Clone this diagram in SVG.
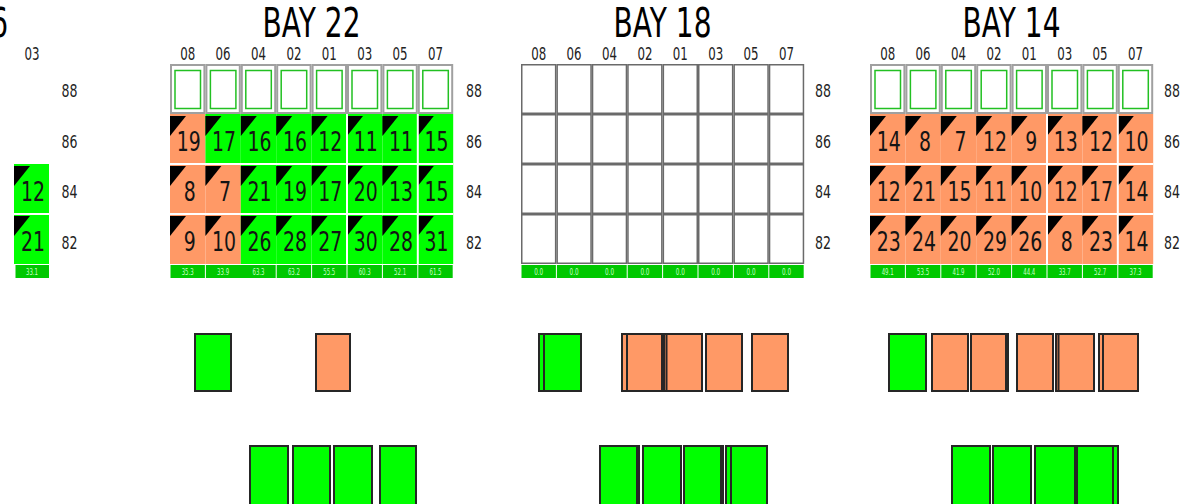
<svg xmlns="http://www.w3.org/2000/svg" xmlns:xlink="http://www.w3.org/1999/xlink" width="1181" height="504" viewBox="0 0 1181 504">
<style>
.g{fill:#00ff00}
.o{fill:#ff9966}
.n{font-family:"DejaVu Sans","Liberation Sans",sans-serif;font-size:26px;text-anchor:middle;fill:#141414}
.lb{font-family:"DejaVu Sans","Liberation Sans",sans-serif;font-size:18px;text-anchor:middle;fill:#222}
.ti{font-family:"DejaVu Sans","Liberation Sans",sans-serif;font-size:40px;text-anchor:middle;fill:#000}
.ft{fill:#00c800}
.fv{font-family:"DejaVu Sans","Liberation Sans",sans-serif;font-size:8px;text-anchor:middle;fill:#c8ffc8}
.sep{stroke:#fff;stroke-width:2}
.box{fill:#fff;stroke:#a0a0a0;stroke-width:2}
.in{fill:none;stroke:#22c022;stroke-width:1.5}
.e{fill:#fff;stroke:#6a6a6a;stroke-width:1.5}
.cg{fill:#00ff00;stroke:#262626;stroke-width:2}
.co{fill:#ff9966;stroke:#262626;stroke-width:2}
</style>
<defs>
<path id="tri" d="M0,0h16l-16,20z" fill="#000"/>
</defs>
<rect width="1181" height="504" fill="#fff"/>

<!-- Left partial bay 26 -->
<g id="bay26">
<text class="ti" style="text-anchor:end" x="8" y="37" textLength="98" lengthAdjust="spacingAndGlyphs">BAY 26</text>
<text class="lb" x="32" y="60" textLength="15" lengthAdjust="spacingAndGlyphs">03</text>
<text class="lb" x="69.5" y="97" textLength="16" lengthAdjust="spacingAndGlyphs">88</text>
<text class="lb" x="69.5" y="148" textLength="16" lengthAdjust="spacingAndGlyphs">86</text>
<text class="lb" x="69.5" y="198" textLength="16" lengthAdjust="spacingAndGlyphs">84</text>
<text class="lb" x="69.5" y="249" textLength="16" lengthAdjust="spacingAndGlyphs">82</text>
<g id="b26-84-03"><rect class="g" x="14" y="164" width="35" height="50"/><use href="#tri" x="14" y="166"/><text class="n" x="33" y="201" textLength="24" lengthAdjust="spacingAndGlyphs">12</text></g>
<g id="b26-82-03"><rect class="g" x="14" y="214" width="35" height="50"/><use href="#tri" x="14" y="216"/><text class="n" x="33" y="251" textLength="24" lengthAdjust="spacingAndGlyphs">21</text></g>
<line class="sep" x1="14" y1="214" x2="49" y2="214"/>
<g id="b26-ft"><rect class="ft" x="15.5" y="265" width="33.5" height="13"/><text class="fv" x="32" y="275" textLength="12" lengthAdjust="spacingAndGlyphs">33.1</text></g>
</g>

<!-- BAY 22 -->
<g id="bay22">
<text class="ti" x="311.5" y="37" textLength="98" lengthAdjust="spacingAndGlyphs">BAY 22</text>
<g id="b22-cols">
<text class="lb" x="187.7" y="60" textLength="15" lengthAdjust="spacingAndGlyphs">08</text>
<text class="lb" x="223.1" y="60" textLength="15" lengthAdjust="spacingAndGlyphs">06</text>
<text class="lb" x="258.5" y="60" textLength="15" lengthAdjust="spacingAndGlyphs">04</text>
<text class="lb" x="293.9" y="60" textLength="15" lengthAdjust="spacingAndGlyphs">02</text>
<text class="lb" x="329.3" y="60" textLength="15" lengthAdjust="spacingAndGlyphs">01</text>
<text class="lb" x="364.7" y="60" textLength="15" lengthAdjust="spacingAndGlyphs">03</text>
<text class="lb" x="400.1" y="60" textLength="15" lengthAdjust="spacingAndGlyphs">05</text>
<text class="lb" x="435.5" y="60" textLength="15" lengthAdjust="spacingAndGlyphs">07</text>
</g>
<g id="b22-rows">
<text class="lb" x="474" y="97" textLength="16" lengthAdjust="spacingAndGlyphs">88</text>
<text class="lb" x="474" y="148" textLength="16" lengthAdjust="spacingAndGlyphs">86</text>
<text class="lb" x="474" y="198" textLength="16" lengthAdjust="spacingAndGlyphs">84</text>
<text class="lb" x="474" y="249" textLength="16" lengthAdjust="spacingAndGlyphs">82</text>
</g>
<g id="b22-88">
<rect class="box" x="171" y="65" width="33.4" height="48"/><rect class="in" x="175" y="70.5" width="25.5" height="38"/>
<rect class="box" x="206.4" y="65" width="33.4" height="48"/><rect class="in" x="210.4" y="70.5" width="25.5" height="38"/>
<rect class="box" x="241.8" y="65" width="33.4" height="48"/><rect class="in" x="245.8" y="70.5" width="25.5" height="38"/>
<rect class="box" x="277.2" y="65" width="33.4" height="48"/><rect class="in" x="281.2" y="70.5" width="25.5" height="38"/>
<rect class="box" x="312.6" y="65" width="33.4" height="48"/><rect class="in" x="316.6" y="70.5" width="25.5" height="38"/>
<rect class="box" x="348" y="65" width="33.4" height="48"/><rect class="in" x="352" y="70.5" width="25.5" height="38"/>
<rect class="box" x="383.4" y="65" width="33.4" height="48"/><rect class="in" x="387.4" y="70.5" width="25.5" height="38"/>
<rect class="box" x="418.8" y="65" width="33.4" height="48"/><rect class="in" x="422.8" y="70.5" width="25.5" height="38"/>
</g>
<!-- row 86 -->
<g id="b22-86-08"><rect class="o" x="170" y="114" width="35.4" height="50"/><use href="#tri" x="170" y="116"/><text class="n" x="188.7" y="151" textLength="24" lengthAdjust="spacingAndGlyphs">19</text></g>
<g id="b22-86-06"><rect class="g" x="205.4" y="114" width="35.4" height="50"/><use href="#tri" x="205.4" y="116"/><text class="n" x="224.1" y="151" textLength="24" lengthAdjust="spacingAndGlyphs">17</text></g>
<g id="b22-86-04"><rect class="g" x="240.8" y="114" width="35.4" height="50"/><use href="#tri" x="240.8" y="116"/><text class="n" x="259.5" y="151" textLength="24" lengthAdjust="spacingAndGlyphs">16</text></g>
<g id="b22-86-02"><rect class="g" x="276.2" y="114" width="35.4" height="50"/><use href="#tri" x="276.2" y="116"/><text class="n" x="294.9" y="151" textLength="24" lengthAdjust="spacingAndGlyphs">16</text></g>
<g id="b22-86-01"><rect class="g" x="311.6" y="114" width="35.4" height="50"/><use href="#tri" x="311.6" y="116"/><text class="n" x="330.3" y="151" textLength="24" lengthAdjust="spacingAndGlyphs">12</text></g>
<g id="b22-86-03"><rect class="g" x="347" y="114" width="35.4" height="50"/><use href="#tri" x="347" y="116"/><text class="n" x="365.7" y="151" textLength="24" lengthAdjust="spacingAndGlyphs">11</text></g>
<g id="b22-86-05"><rect class="g" x="382.4" y="114" width="35.4" height="50"/><use href="#tri" x="382.4" y="116"/><text class="n" x="401.1" y="151" textLength="24" lengthAdjust="spacingAndGlyphs">11</text></g>
<g id="b22-86-07"><rect class="g" x="417.8" y="114" width="35.4" height="50"/><use href="#tri" x="417.8" y="116"/><text class="n" x="436.5" y="151" textLength="24" lengthAdjust="spacingAndGlyphs">15</text></g>
<!-- row 84 -->
<g id="b22-84-08"><rect class="o" x="170" y="164" width="35.4" height="50"/><use href="#tri" x="170" y="166"/><text class="n" x="189.7" y="201" textLength="12" lengthAdjust="spacingAndGlyphs">8</text></g>
<g id="b22-84-06"><rect class="o" x="205.4" y="164" width="35.4" height="50"/><use href="#tri" x="205.4" y="166"/><text class="n" x="225.1" y="201" textLength="12" lengthAdjust="spacingAndGlyphs">7</text></g>
<g id="b22-84-04"><rect class="g" x="240.8" y="164" width="35.4" height="50"/><use href="#tri" x="240.8" y="166"/><text class="n" x="259.5" y="201" textLength="24" lengthAdjust="spacingAndGlyphs">21</text></g>
<g id="b22-84-02"><rect class="g" x="276.2" y="164" width="35.4" height="50"/><use href="#tri" x="276.2" y="166"/><text class="n" x="294.9" y="201" textLength="24" lengthAdjust="spacingAndGlyphs">19</text></g>
<g id="b22-84-01"><rect class="g" x="311.6" y="164" width="35.4" height="50"/><use href="#tri" x="311.6" y="166"/><text class="n" x="330.3" y="201" textLength="24" lengthAdjust="spacingAndGlyphs">17</text></g>
<g id="b22-84-03"><rect class="g" x="347" y="164" width="35.4" height="50"/><use href="#tri" x="347" y="166"/><text class="n" x="365.7" y="201" textLength="24" lengthAdjust="spacingAndGlyphs">20</text></g>
<g id="b22-84-05"><rect class="g" x="382.4" y="164" width="35.4" height="50"/><use href="#tri" x="382.4" y="166"/><text class="n" x="401.1" y="201" textLength="24" lengthAdjust="spacingAndGlyphs">13</text></g>
<g id="b22-84-07"><rect class="g" x="417.8" y="164" width="35.4" height="50"/><use href="#tri" x="417.8" y="166"/><text class="n" x="436.5" y="201" textLength="24" lengthAdjust="spacingAndGlyphs">15</text></g>
<!-- row 82 -->
<g id="b22-82-08"><rect class="o" x="170" y="214" width="35.4" height="50"/><use href="#tri" x="170" y="216"/><text class="n" x="189.7" y="251" textLength="12" lengthAdjust="spacingAndGlyphs">9</text></g>
<g id="b22-82-06"><rect class="o" x="205.4" y="214" width="35.4" height="50"/><use href="#tri" x="205.4" y="216"/><text class="n" x="224.1" y="251" textLength="24" lengthAdjust="spacingAndGlyphs">10</text></g>
<g id="b22-82-04"><rect class="g" x="240.8" y="214" width="35.4" height="50"/><use href="#tri" x="240.8" y="216"/><text class="n" x="259.5" y="251" textLength="24" lengthAdjust="spacingAndGlyphs">26</text></g>
<g id="b22-82-02"><rect class="g" x="276.2" y="214" width="35.4" height="50"/><use href="#tri" x="276.2" y="216"/><text class="n" x="294.9" y="251" textLength="24" lengthAdjust="spacingAndGlyphs">28</text></g>
<g id="b22-82-01"><rect class="g" x="311.6" y="214" width="35.4" height="50"/><use href="#tri" x="311.6" y="216"/><text class="n" x="330.3" y="251" textLength="24" lengthAdjust="spacingAndGlyphs">27</text></g>
<g id="b22-82-03"><rect class="g" x="347" y="214" width="35.4" height="50"/><use href="#tri" x="347" y="216"/><text class="n" x="365.7" y="251" textLength="24" lengthAdjust="spacingAndGlyphs">30</text></g>
<g id="b22-82-05"><rect class="g" x="382.4" y="214" width="35.4" height="50"/><use href="#tri" x="382.4" y="216"/><text class="n" x="401.1" y="251" textLength="24" lengthAdjust="spacingAndGlyphs">28</text></g>
<g id="b22-82-07"><rect class="g" x="417.8" y="214" width="35.4" height="50"/><use href="#tri" x="417.8" y="216"/><text class="n" x="436.5" y="251" textLength="24" lengthAdjust="spacingAndGlyphs">31</text></g>
<g id="b22-seps">
<line class="sep" x1="170" y1="164" x2="453.2" y2="164"/>
<line class="sep" x1="170" y1="214" x2="453.2" y2="214"/>
<line class="sep" x1="347" y1="114" x2="347" y2="264"/>
<line class="sep" x1="417.8" y1="114" x2="417.8" y2="264"/>
</g>
<g id="b22-ft">
<rect class="ft" x="170.5" y="265" width="34.4" height="13"/>
<rect class="ft" x="205.9" y="265" width="69.8" height="13"/>
<rect class="ft" x="276.7" y="265" width="34.4" height="13"/>
<rect class="ft" x="312.1" y="265" width="34.4" height="13"/>
<rect class="ft" x="347.5" y="265" width="34.4" height="13"/>
<rect class="ft" x="382.9" y="265" width="34.4" height="13"/>
<rect class="ft" x="418.3" y="265" width="34.4" height="13"/>
<text class="fv" x="187.7" y="275" textLength="12" lengthAdjust="spacingAndGlyphs">35.3</text>
<text class="fv" x="223.1" y="275" textLength="12" lengthAdjust="spacingAndGlyphs">33.9</text>
<text class="fv" x="258.5" y="275" textLength="12" lengthAdjust="spacingAndGlyphs">63.3</text>
<text class="fv" x="293.9" y="275" textLength="12" lengthAdjust="spacingAndGlyphs">63.2</text>
<text class="fv" x="329.3" y="275" textLength="12" lengthAdjust="spacingAndGlyphs">55.5</text>
<text class="fv" x="364.7" y="275" textLength="12" lengthAdjust="spacingAndGlyphs">60.3</text>
<text class="fv" x="400.1" y="275" textLength="12" lengthAdjust="spacingAndGlyphs">52.1</text>
<text class="fv" x="435.5" y="275" textLength="12" lengthAdjust="spacingAndGlyphs">61.5</text>
</g>
</g>

<!-- BAY 18 -->
<g id="bay18">
<text class="ti" x="662.5" y="37" textLength="98" lengthAdjust="spacingAndGlyphs">BAY 18</text>
<g id="b18-cols">
<text class="lb" x="538.7" y="60" textLength="15" lengthAdjust="spacingAndGlyphs">08</text>
<text class="lb" x="574.1" y="60" textLength="15" lengthAdjust="spacingAndGlyphs">06</text>
<text class="lb" x="609.5" y="60" textLength="15" lengthAdjust="spacingAndGlyphs">04</text>
<text class="lb" x="644.9" y="60" textLength="15" lengthAdjust="spacingAndGlyphs">02</text>
<text class="lb" x="680.3" y="60" textLength="15" lengthAdjust="spacingAndGlyphs">01</text>
<text class="lb" x="715.7" y="60" textLength="15" lengthAdjust="spacingAndGlyphs">03</text>
<text class="lb" x="751.1" y="60" textLength="15" lengthAdjust="spacingAndGlyphs">05</text>
<text class="lb" x="786.5" y="60" textLength="15" lengthAdjust="spacingAndGlyphs">07</text>
</g>
<g id="b18-rows">
<text class="lb" x="823" y="97" textLength="16" lengthAdjust="spacingAndGlyphs">88</text>
<text class="lb" x="823" y="148" textLength="16" lengthAdjust="spacingAndGlyphs">86</text>
<text class="lb" x="823" y="198" textLength="16" lengthAdjust="spacingAndGlyphs">84</text>
<text class="lb" x="823" y="249" textLength="16" lengthAdjust="spacingAndGlyphs">82</text>
</g>
<g id="b18-cells">
<rect class="e" x="521.75" y="64.75" width="33.9" height="48.5"/><rect class="e" x="557.15" y="64.75" width="33.9" height="48.5"/><rect class="e" x="592.55" y="64.75" width="33.9" height="48.5"/><rect class="e" x="627.95" y="64.75" width="33.9" height="48.5"/><rect class="e" x="663.35" y="64.75" width="33.9" height="48.5"/><rect class="e" x="698.75" y="64.75" width="33.9" height="48.5"/><rect class="e" x="734.15" y="64.75" width="33.9" height="48.5"/><rect class="e" x="769.55" y="64.75" width="33.9" height="48.5"/>
<rect class="e" x="521.75" y="114.75" width="33.9" height="48.5"/><rect class="e" x="557.15" y="114.75" width="33.9" height="48.5"/><rect class="e" x="592.55" y="114.75" width="33.9" height="48.5"/><rect class="e" x="627.95" y="114.75" width="33.9" height="48.5"/><rect class="e" x="663.35" y="114.75" width="33.9" height="48.5"/><rect class="e" x="698.75" y="114.75" width="33.9" height="48.5"/><rect class="e" x="734.15" y="114.75" width="33.9" height="48.5"/><rect class="e" x="769.55" y="114.75" width="33.9" height="48.5"/>
<rect class="e" x="521.75" y="164.75" width="33.9" height="48.5"/><rect class="e" x="557.15" y="164.75" width="33.9" height="48.5"/><rect class="e" x="592.55" y="164.75" width="33.9" height="48.5"/><rect class="e" x="627.95" y="164.75" width="33.9" height="48.5"/><rect class="e" x="663.35" y="164.75" width="33.9" height="48.5"/><rect class="e" x="698.75" y="164.75" width="33.9" height="48.5"/><rect class="e" x="734.15" y="164.75" width="33.9" height="48.5"/><rect class="e" x="769.55" y="164.75" width="33.9" height="48.5"/>
<rect class="e" x="521.75" y="214.75" width="33.9" height="48.5"/><rect class="e" x="557.15" y="214.75" width="33.9" height="48.5"/><rect class="e" x="592.55" y="214.75" width="33.9" height="48.5"/><rect class="e" x="627.95" y="214.75" width="33.9" height="48.5"/><rect class="e" x="663.35" y="214.75" width="33.9" height="48.5"/><rect class="e" x="698.75" y="214.75" width="33.9" height="48.5"/><rect class="e" x="734.15" y="214.75" width="33.9" height="48.5"/><rect class="e" x="769.55" y="214.75" width="33.9" height="48.5"/>
</g>
<g id="b18-ft">
<rect class="ft" x="521.5" y="265" width="34.4" height="13"/>
<rect class="ft" x="556.9" y="265" width="69.8" height="13"/>
<rect class="ft" x="627.7" y="265" width="34.4" height="13"/>
<rect class="ft" x="663.1" y="265" width="34.4" height="13"/>
<rect class="ft" x="698.5" y="265" width="34.4" height="13"/>
<rect class="ft" x="733.9" y="265" width="34.4" height="13"/>
<rect class="ft" x="769.3" y="265" width="34.4" height="13"/>
<text class="fv" x="538.7" y="275" textLength="9" lengthAdjust="spacingAndGlyphs">0.0</text>
<text class="fv" x="574.1" y="275" textLength="9" lengthAdjust="spacingAndGlyphs">0.0</text>
<text class="fv" x="609.5" y="275" textLength="9" lengthAdjust="spacingAndGlyphs">0.0</text>
<text class="fv" x="644.9" y="275" textLength="9" lengthAdjust="spacingAndGlyphs">0.0</text>
<text class="fv" x="680.3" y="275" textLength="9" lengthAdjust="spacingAndGlyphs">0.0</text>
<text class="fv" x="715.7" y="275" textLength="9" lengthAdjust="spacingAndGlyphs">0.0</text>
<text class="fv" x="751.1" y="275" textLength="9" lengthAdjust="spacingAndGlyphs">0.0</text>
<text class="fv" x="786.5" y="275" textLength="9" lengthAdjust="spacingAndGlyphs">0.0</text>
</g>
</g>

<!-- BAY 14 -->
<g id="bay14">
<text class="ti" x="1011.5" y="37" textLength="98" lengthAdjust="spacingAndGlyphs">BAY 14</text>
<g id="b14-cols">
<text class="lb" x="887.7" y="60" textLength="15" lengthAdjust="spacingAndGlyphs">08</text>
<text class="lb" x="923.1" y="60" textLength="15" lengthAdjust="spacingAndGlyphs">06</text>
<text class="lb" x="958.5" y="60" textLength="15" lengthAdjust="spacingAndGlyphs">04</text>
<text class="lb" x="993.9" y="60" textLength="15" lengthAdjust="spacingAndGlyphs">02</text>
<text class="lb" x="1029.3" y="60" textLength="15" lengthAdjust="spacingAndGlyphs">01</text>
<text class="lb" x="1064.7" y="60" textLength="15" lengthAdjust="spacingAndGlyphs">03</text>
<text class="lb" x="1100.1" y="60" textLength="15" lengthAdjust="spacingAndGlyphs">05</text>
<text class="lb" x="1135.5" y="60" textLength="15" lengthAdjust="spacingAndGlyphs">07</text>
</g>
<g id="b14-rows">
<text class="lb" x="1172" y="97" textLength="16" lengthAdjust="spacingAndGlyphs">88</text>
<text class="lb" x="1172" y="148" textLength="16" lengthAdjust="spacingAndGlyphs">86</text>
<text class="lb" x="1172" y="198" textLength="16" lengthAdjust="spacingAndGlyphs">84</text>
<text class="lb" x="1172" y="249" textLength="16" lengthAdjust="spacingAndGlyphs">82</text>
</g>
<g id="b14-88">
<rect class="box" x="871" y="65" width="33.4" height="48"/><rect class="in" x="875" y="70.5" width="25.5" height="38"/>
<rect class="box" x="906.4" y="65" width="33.4" height="48"/><rect class="in" x="910.4" y="70.5" width="25.5" height="38"/>
<rect class="box" x="941.8" y="65" width="33.4" height="48"/><rect class="in" x="945.8" y="70.5" width="25.5" height="38"/>
<rect class="box" x="977.2" y="65" width="33.4" height="48"/><rect class="in" x="981.2" y="70.5" width="25.5" height="38"/>
<rect class="box" x="1012.6" y="65" width="33.4" height="48"/><rect class="in" x="1016.6" y="70.5" width="25.5" height="38"/>
<rect class="box" x="1048" y="65" width="33.4" height="48"/><rect class="in" x="1052" y="70.5" width="25.5" height="38"/>
<rect class="box" x="1083.4" y="65" width="33.4" height="48"/><rect class="in" x="1087.4" y="70.5" width="25.5" height="38"/>
<rect class="box" x="1118.8" y="65" width="33.4" height="48"/><rect class="in" x="1122.8" y="70.5" width="25.5" height="38"/>
</g>
<!-- row 86 -->
<g id="b14-86-08"><rect class="o" x="870" y="114" width="35.4" height="50"/><use href="#tri" x="870" y="116"/><text class="n" x="888.7" y="151" textLength="24" lengthAdjust="spacingAndGlyphs">14</text></g>
<g id="b14-86-06"><rect class="o" x="905.4" y="114" width="35.4" height="50"/><use href="#tri" x="905.4" y="116"/><text class="n" x="925.1" y="151" textLength="12" lengthAdjust="spacingAndGlyphs">8</text></g>
<g id="b14-86-04"><rect class="o" x="940.8" y="114" width="35.4" height="50"/><use href="#tri" x="940.8" y="116"/><text class="n" x="960.5" y="151" textLength="12" lengthAdjust="spacingAndGlyphs">7</text></g>
<g id="b14-86-02"><rect class="o" x="976.2" y="114" width="35.4" height="50"/><use href="#tri" x="976.2" y="116"/><text class="n" x="994.9" y="151" textLength="24" lengthAdjust="spacingAndGlyphs">12</text></g>
<g id="b14-86-01"><rect class="o" x="1011.6" y="114" width="35.4" height="50"/><use href="#tri" x="1011.6" y="116"/><text class="n" x="1031.3" y="151" textLength="12" lengthAdjust="spacingAndGlyphs">9</text></g>
<g id="b14-86-03"><rect class="o" x="1047" y="114" width="35.4" height="50"/><use href="#tri" x="1047" y="116"/><text class="n" x="1065.7" y="151" textLength="24" lengthAdjust="spacingAndGlyphs">13</text></g>
<g id="b14-86-05"><rect class="o" x="1082.4" y="114" width="35.4" height="50"/><use href="#tri" x="1082.4" y="116"/><text class="n" x="1101.1" y="151" textLength="24" lengthAdjust="spacingAndGlyphs">12</text></g>
<g id="b14-86-07"><rect class="o" x="1117.8" y="114" width="35.4" height="50"/><use href="#tri" x="1117.8" y="116"/><text class="n" x="1136.5" y="151" textLength="24" lengthAdjust="spacingAndGlyphs">10</text></g>
<!-- row 84 -->
<g id="b14-84-08"><rect class="o" x="870" y="164" width="35.4" height="50"/><use href="#tri" x="870" y="166"/><text class="n" x="888.7" y="201" textLength="24" lengthAdjust="spacingAndGlyphs">12</text></g>
<g id="b14-84-06"><rect class="o" x="905.4" y="164" width="35.4" height="50"/><use href="#tri" x="905.4" y="166"/><text class="n" x="924.1" y="201" textLength="24" lengthAdjust="spacingAndGlyphs">21</text></g>
<g id="b14-84-04"><rect class="o" x="940.8" y="164" width="35.4" height="50"/><use href="#tri" x="940.8" y="166"/><text class="n" x="959.5" y="201" textLength="24" lengthAdjust="spacingAndGlyphs">15</text></g>
<g id="b14-84-02"><rect class="o" x="976.2" y="164" width="35.4" height="50"/><use href="#tri" x="976.2" y="166"/><text class="n" x="994.9" y="201" textLength="24" lengthAdjust="spacingAndGlyphs">11</text></g>
<g id="b14-84-01"><rect class="o" x="1011.6" y="164" width="35.4" height="50"/><use href="#tri" x="1011.6" y="166"/><text class="n" x="1030.3" y="201" textLength="24" lengthAdjust="spacingAndGlyphs">10</text></g>
<g id="b14-84-03"><rect class="o" x="1047" y="164" width="35.4" height="50"/><use href="#tri" x="1047" y="166"/><text class="n" x="1065.7" y="201" textLength="24" lengthAdjust="spacingAndGlyphs">12</text></g>
<g id="b14-84-05"><rect class="o" x="1082.4" y="164" width="35.4" height="50"/><use href="#tri" x="1082.4" y="166"/><text class="n" x="1101.1" y="201" textLength="24" lengthAdjust="spacingAndGlyphs">17</text></g>
<g id="b14-84-07"><rect class="o" x="1117.8" y="164" width="35.4" height="50"/><use href="#tri" x="1117.8" y="166"/><text class="n" x="1136.5" y="201" textLength="24" lengthAdjust="spacingAndGlyphs">14</text></g>
<!-- row 82 -->
<g id="b14-82-08"><rect class="o" x="870" y="214" width="35.4" height="50"/><use href="#tri" x="870" y="216"/><text class="n" x="888.7" y="251" textLength="24" lengthAdjust="spacingAndGlyphs">23</text></g>
<g id="b14-82-06"><rect class="o" x="905.4" y="214" width="35.4" height="50"/><use href="#tri" x="905.4" y="216"/><text class="n" x="924.1" y="251" textLength="24" lengthAdjust="spacingAndGlyphs">24</text></g>
<g id="b14-82-04"><rect class="o" x="940.8" y="214" width="35.4" height="50"/><use href="#tri" x="940.8" y="216"/><text class="n" x="959.5" y="251" textLength="24" lengthAdjust="spacingAndGlyphs">20</text></g>
<g id="b14-82-02"><rect class="o" x="976.2" y="214" width="35.4" height="50"/><use href="#tri" x="976.2" y="216"/><text class="n" x="994.9" y="251" textLength="24" lengthAdjust="spacingAndGlyphs">29</text></g>
<g id="b14-82-01"><rect class="o" x="1011.6" y="214" width="35.4" height="50"/><use href="#tri" x="1011.6" y="216"/><text class="n" x="1030.3" y="251" textLength="24" lengthAdjust="spacingAndGlyphs">26</text></g>
<g id="b14-82-03"><rect class="o" x="1047" y="214" width="35.4" height="50"/><use href="#tri" x="1047" y="216"/><text class="n" x="1066.7" y="251" textLength="12" lengthAdjust="spacingAndGlyphs">8</text></g>
<g id="b14-82-05"><rect class="o" x="1082.4" y="214" width="35.4" height="50"/><use href="#tri" x="1082.4" y="216"/><text class="n" x="1101.1" y="251" textLength="24" lengthAdjust="spacingAndGlyphs">23</text></g>
<g id="b14-82-07"><rect class="o" x="1117.8" y="214" width="35.4" height="50"/><use href="#tri" x="1117.8" y="216"/><text class="n" x="1136.5" y="251" textLength="24" lengthAdjust="spacingAndGlyphs">14</text></g>
<g id="b14-seps">
<line class="sep" x1="870" y1="164" x2="1153.2" y2="164"/>
<line class="sep" x1="870" y1="214" x2="1153.2" y2="214"/>
<line class="sep" x1="1047" y1="114" x2="1047" y2="264"/>
<line class="sep" x1="1117.8" y1="114" x2="1117.8" y2="264"/>
</g>
<g id="b14-ft">
<rect class="ft" x="870.5" y="265" width="34.4" height="13"/>
<rect class="ft" x="905.9" y="265" width="34.4" height="13"/>
<rect class="ft" x="941.3" y="265" width="34.4" height="13"/>
<rect class="ft" x="976.7" y="265" width="34.4" height="13"/>
<rect class="ft" x="1012.1" y="265" width="34.4" height="13"/>
<rect class="ft" x="1047.5" y="265" width="34.4" height="13"/>
<rect class="ft" x="1082.9" y="265" width="34.4" height="13"/>
<rect class="ft" x="1118.3" y="265" width="34.4" height="13"/>
<text class="fv" x="887.7" y="275" textLength="12" lengthAdjust="spacingAndGlyphs">49.1</text>
<text class="fv" x="923.1" y="275" textLength="12" lengthAdjust="spacingAndGlyphs">53.5</text>
<text class="fv" x="958.5" y="275" textLength="12" lengthAdjust="spacingAndGlyphs">41.9</text>
<text class="fv" x="993.9" y="275" textLength="12" lengthAdjust="spacingAndGlyphs">52.0</text>
<text class="fv" x="1029.3" y="275" textLength="12" lengthAdjust="spacingAndGlyphs">44.4</text>
<text class="fv" x="1064.7" y="275" textLength="12" lengthAdjust="spacingAndGlyphs">33.7</text>
<text class="fv" x="1100.1" y="275" textLength="12" lengthAdjust="spacingAndGlyphs">52.7</text>
<text class="fv" x="1135.5" y="275" textLength="12" lengthAdjust="spacingAndGlyphs">37.3</text>
</g>
</g>

<!-- Lower stacks -->
<g id="stacks-row1">
<rect id="s22a" class="cg" x="195" y="334" width="36" height="57"/>
<rect id="s22b" class="co" x="316" y="334" width="34" height="57"/>
<rect id="s18a1" class="cg" x="539" y="334" width="37" height="57"/>
<rect id="s18a2" class="cg" x="544" y="334" width="37" height="57"/>
<rect id="s18b1" class="co" x="622" y="334" width="35" height="57"/>
<rect id="s18b2" class="co" x="627" y="334" width="35" height="57"/>
<rect id="s18c1" class="co" x="664" y="334" width="36" height="57"/>
<rect id="s18c2" class="co" x="666.5" y="334" width="35.5" height="57"/>
<rect id="s18d" class="co" x="706" y="334" width="36" height="57"/>
<rect id="s18e" class="co" x="752" y="334" width="36" height="57"/>
<rect id="s14a" class="cg" x="889" y="334" width="37" height="57"/>
<rect id="s14b" class="co" x="932" y="334" width="36" height="57"/>
<rect id="s14c1" class="co" x="973" y="334" width="35" height="57"/>
<rect id="s14c2" class="co" x="971" y="334" width="35" height="57"/>
<rect id="s14d" class="co" x="1017" y="334" width="36" height="57"/>
<rect id="s14e1" class="co" x="1056" y="334" width="36" height="57"/>
<rect id="s14e2" class="co" x="1058.5" y="334" width="35.5" height="57"/>
<rect id="s14f1" class="co" x="1099" y="334" width="35" height="57"/>
<rect id="s14f2" class="co" x="1103" y="334" width="35" height="57"/>
</g>
<g id="stacks-row2">
<rect id="t22a" class="cg" x="250" y="446" width="38" height="70"/>
<rect id="t22b" class="cg" x="293" y="446" width="37" height="70"/>
<rect id="t22c" class="cg" x="334" y="446" width="38" height="70"/>
<rect id="t22d" class="cg" x="380" y="446" width="36" height="70"/>
<rect id="t18a1" class="cg" x="602" y="446" width="37" height="70"/>
<rect id="t18a2" class="cg" x="600" y="446" width="37" height="70"/>
<rect id="t18b" class="cg" x="643" y="446" width="38" height="70"/>
<rect id="t18c1" class="cg" x="686" y="446" width="37" height="70"/>
<rect id="t18c2" class="cg" x="684" y="446" width="37" height="70"/>
<rect id="t18d1" class="cg" x="726" y="446" width="36" height="70"/>
<rect id="t18d2" class="cg" x="731" y="446" width="36" height="70"/>
<rect id="t14e" class="cg" x="1082" y="446" width="36" height="70"/>
<rect id="t14a" class="cg" x="952" y="446" width="38" height="70"/>
<rect id="t14b" class="cg" x="993" y="446" width="38" height="70"/>
<rect id="t14c" class="cg" x="1035" y="446" width="40" height="70"/>
<rect id="t14d" class="cg" x="1077" y="446" width="36" height="70"/>
</g>
</svg>
